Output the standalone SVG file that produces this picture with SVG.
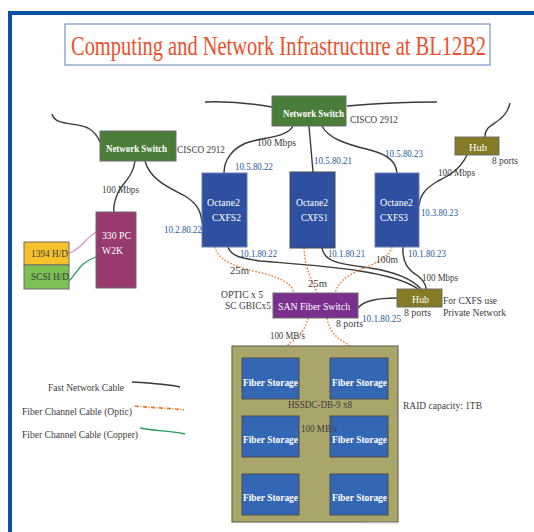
<svg xmlns="http://www.w3.org/2000/svg" width="534" height="532" viewBox="0 0 534 532" font-family="'Liberation Serif', 'DejaVu Serif', serif">
<style>
text{font-family:'Liberation Serif','DejaVu Serif',serif;}
.lbl{font-size:11px;fill:#3c3c3c;}
.ip{font-size:11px;fill:#1d5a9b;}
.wt{font-size:11px;fill:#ffffff;}
.wb{font-size:11px;fill:#ffffff;font-weight:bold;}
.net{fill:none;stroke:#3a3a3a;stroke-width:1.4;}
.opt{fill:none;stroke:#f07124;stroke-width:1.4;stroke-dasharray:1.5 1.8;}
.cu{fill:none;stroke:#2a9a5e;stroke-width:1.3;}
.oct{fill:#2f4fa0;stroke:#6f7fb0;stroke-width:1;}
.sto{fill:#3467b3;stroke:#4a4a4a;stroke-width:1;}
.sw{fill:#4a7d3a;stroke:#6c6c6c;stroke-width:1;}
.hub{fill:#857a25;stroke:#6c6c6c;stroke-width:1;}
</style>
<rect width="534" height="532" fill="#ffffff"/>
<path d="M10,532 V13 H534" fill="none" stroke="#0b52a6" stroke-width="4"/>
<g id="title">
<rect x="65" y="24" width="425" height="41" fill="#ffffff" stroke="#5b7fb5" stroke-width="1"/>
<text x="71" y="55" font-size="28" fill="#ec4f2a" textLength="415" lengthAdjust="spacingAndGlyphs">Computing and Network Infrastructure at BL12B2</text>
</g>
<g id="connectors">
<path class="net" d="M205,102 C230,101 255,104 272,107"/>
<path class="net" d="M347,106 C380,103 410,102 437,102"/>
<path class="net" d="M52,114 C55,126 75,122 88,128 C95,132 98,137 100,142"/>
<path class="net" d="M135,161 C133,178 120,185 117,195 C114,203 113,208 114,212"/>
<path class="net" d="M145,161 C150,180 170,188 185,196 C198,204 201,212 202,223"/>
<path class="net" d="M293,126 C287,138 262,137 246,143 C232,149 224,160 224,173"/>
<path class="net" d="M309,126 L313,172"/>
<path class="net" d="M322,126 C328,138 345,144 370,150 C390,155 396,163 397,173"/>
<path class="net" d="M485,137 C484,122 505,125 510,103"/>
<path class="net" d="M467,155 C460,170 448,176 438,181 C424,189 420,196 419,206"/>
<path class="net" d="M228,247 C231,256 240,258 260,261 C320,266 392,270 418,289"/>
<path class="net" d="M322,248 C324,262 340,264 370,268 C396,272 412,279 421,289"/>
<path class="net" d="M403,247 C402,262 408,270 418,276 C424,281 426,286 426,289"/>
<path class="net" d="M358,308 C364,300 380,298 397,298"/>
<path class="opt" d="M215,247 C218,262 240,268 262,273 C285,279 292,285 294,293"/>
<path class="opt" d="M304,248 C305,270 312,280 317,293"/>
<path class="opt" d="M392,247 C388,262 360,268 350,275 C340,281 337,287 335,293"/>
<path class="opt" d="M308,318 C305,332 296,338 289,344 C280,350 275,354 273,358"/>
<path class="opt" d="M327,318 C329,330 334,336 344,342 C354,348 360,352 362,358"/>
<path d="M69,253 C80,250 84,240 96,232" fill="none" stroke="#e394c4" stroke-width="1.3"/>
<path class="cu" d="M69,281 C78,272 80,262 96,257"/>
<path class="cu" d="M264,416 C268,410 264,405 269,399"/>
<path class="cu" d="M273,416 C277,410 273,405 278,399"/>
<path class="cu" d="M353,416 C357,410 353,405 358,399"/>
<path class="cu" d="M361,416 C365,410 361,405 366,399"/>
<path class="cu" d="M264,474 C268,468 264,463 269,457"/>
<path class="cu" d="M273,474 C277,468 273,463 278,457"/>
<path class="cu" d="M353,474 C357,468 353,463 358,457"/>
<path class="cu" d="M361,474 C365,468 361,463 366,457"/>
</g>
<g id="switch-top">
<rect class="sw" x="272" y="96" width="74" height="30"/>
<text class="wb" x="283" y="117" textLength="61" lengthAdjust="spacingAndGlyphs">Network Switch</text>
<text class="lbl" x="350" y="123" textLength="48" lengthAdjust="spacingAndGlyphs">CISCO 2912</text>
</g>
<g id="switch-left">
<rect class="sw" x="100" y="131" width="76" height="30"/>
<text class="wb" x="106" y="152" textLength="61" lengthAdjust="spacingAndGlyphs">Network Switch</text>
<text class="lbl" x="177" y="153" textLength="48" lengthAdjust="spacingAndGlyphs">CISCO 2912</text>
</g>
<g id="pc">
<rect x="96" y="212" width="40" height="76" fill="#983a6e" stroke="#6c6c6c" stroke-width="1"/>
<text class="wt" x="102" y="239" textLength="29" lengthAdjust="spacingAndGlyphs">330 PC</text>
<text class="wt" x="102" y="254" textLength="21" lengthAdjust="spacingAndGlyphs">W2K</text>
</g>
<g id="hd1394">
<rect x="24" y="242" width="45" height="23" fill="#f6c12b" stroke="#6c6c6c" stroke-width="1"/>
<text class="lbl" x="31" y="257" textLength="37" lengthAdjust="spacingAndGlyphs">1394 H/D</text>
</g>
<g id="scsi">
<rect x="24" y="265" width="45" height="24" fill="#7cbf52" stroke="#6c6c6c" stroke-width="1"/>
<text class="lbl" x="31" y="280" textLength="38" lengthAdjust="spacingAndGlyphs">SCSI H/D</text>
</g>
<g id="cxfs2">
<rect class="oct" x="202" y="173" width="45" height="74"/>
<text class="wt" x="207" y="206" textLength="33" lengthAdjust="spacingAndGlyphs">Octane2</text>
<text class="wt" x="212" y="221" textLength="29" lengthAdjust="spacingAndGlyphs">CXFS2</text>
</g>
<g id="cxfs1">
<rect x="290" y="172" width="45" height="76" fill="#2f4fa0" stroke="#4a4a4a" stroke-width="1"/>
<text class="wt" x="296" y="206" textLength="32" lengthAdjust="spacingAndGlyphs">Octane2</text>
<text class="wt" x="301" y="221" textLength="27" lengthAdjust="spacingAndGlyphs">CXFS1</text>
</g>
<g id="cxfs3">
<rect class="oct" x="375" y="173" width="44" height="74"/>
<text class="wt" x="380" y="206" textLength="33" lengthAdjust="spacingAndGlyphs">Octane2</text>
<text class="wt" x="380" y="221" textLength="28" lengthAdjust="spacingAndGlyphs">CXFS3</text>
</g>
<g id="hub-top">
<rect class="hub" x="455" y="137" width="44" height="18"/>
<text class="wt" x="469" y="151" textLength="18" lengthAdjust="spacingAndGlyphs">Hub</text>
<text class="lbl" x="492" y="164" textLength="26" lengthAdjust="spacingAndGlyphs">8 ports</text>
</g>
<g id="hub-private">
<rect class="hub" x="397" y="289" width="45" height="18"/>
<text class="wt" x="412" y="303" textLength="17" lengthAdjust="spacingAndGlyphs">Hub</text>
<text class="lbl" x="404" y="316" textLength="27" lengthAdjust="spacingAndGlyphs">8 ports</text>
<text class="lbl" x="443" y="304" textLength="54" lengthAdjust="spacingAndGlyphs">For CXFS use</text>
<text class="lbl" x="443" y="316" textLength="63" lengthAdjust="spacingAndGlyphs">Private Network</text>
</g>
<g id="san-switch">
<rect x="273" y="293" width="85" height="25" fill="#7b2f8e" stroke="#6c6c6c" stroke-width="1"/>
<text class="wt" x="278" y="310" textLength="72" lengthAdjust="spacingAndGlyphs">SAN Fiber Switch</text>
<text class="lbl" x="336" y="327" textLength="27" lengthAdjust="spacingAndGlyphs">8 ports</text>
<text class="lbl" x="221" y="298" textLength="42" lengthAdjust="spacingAndGlyphs">OPTIC x 5</text>
<text class="lbl" x="225" y="309" textLength="46" lengthAdjust="spacingAndGlyphs">SC GBICx5</text>
</g>
<g id="raid">
<rect x="232" y="346" width="166" height="176" fill="#aaa56b" stroke="#6a6a55" stroke-width="1.2"/>
<line x1="362" y1="523" x2="398" y2="523" stroke="#d0d0d0" stroke-width="1"/>
</g>
<g id="storage-1"><rect class="sto" x="242" y="358" width="57" height="41"/><text class="wb" x="243" y="386" textLength="55" lengthAdjust="spacingAndGlyphs">Fiber Storage</text></g>
<g id="storage-2"><rect class="sto" x="330" y="358" width="58" height="41"/><text class="wb" x="332" y="386" textLength="55" lengthAdjust="spacingAndGlyphs">Fiber Storage</text></g>
<g id="storage-3"><rect class="sto" x="242" y="416" width="57" height="41"/><text class="wb" x="243" y="443" textLength="55" lengthAdjust="spacingAndGlyphs">Fiber Storage</text></g>
<g id="storage-4"><rect class="sto" x="330" y="416" width="58" height="41"/><text class="wb" x="332" y="443" textLength="55" lengthAdjust="spacingAndGlyphs">Fiber Storage</text></g>
<g id="storage-5"><rect class="sto" x="242" y="474" width="57" height="41"/><text class="wb" x="243" y="501" textLength="55" lengthAdjust="spacingAndGlyphs">Fiber Storage</text></g>
<g id="storage-6"><rect class="sto" x="330" y="474" width="58" height="41"/><text class="wb" x="332" y="501" textLength="55" lengthAdjust="spacingAndGlyphs">Fiber Storage</text></g>
<g id="labels">
<text class="lbl" x="102" y="193" textLength="37" lengthAdjust="spacingAndGlyphs">100 Mbps</text>
<text class="lbl" x="257" y="146" textLength="39" lengthAdjust="spacingAndGlyphs">100 Mbps</text>
<text class="lbl" x="438" y="176" textLength="37" lengthAdjust="spacingAndGlyphs">100 Mbps</text>
<text class="lbl" x="422" y="281" textLength="36" lengthAdjust="spacingAndGlyphs">100 Mbps</text>
<text class="ip" x="235" y="170" textLength="38" lengthAdjust="spacingAndGlyphs">10.5.80.22</text>
<text class="ip" x="314" y="164" textLength="38" lengthAdjust="spacingAndGlyphs">10.5.80.21</text>
<text class="ip" x="385" y="157" textLength="38" lengthAdjust="spacingAndGlyphs">10.5.80.23</text>
<text class="ip" x="164" y="233" textLength="38" lengthAdjust="spacingAndGlyphs">10.2.80.22</text>
<text class="ip" x="240" y="257" textLength="37" lengthAdjust="spacingAndGlyphs">10.1.80.22</text>
<text class="ip" x="328" y="257" textLength="37" lengthAdjust="spacingAndGlyphs">10.1.80.21</text>
<text class="ip" x="408" y="257" textLength="38" lengthAdjust="spacingAndGlyphs">10.1.80.23</text>
<text class="ip" x="421" y="216" textLength="37" lengthAdjust="spacingAndGlyphs">10.3.80.23</text>
<text class="ip" x="362" y="322" textLength="39" lengthAdjust="spacingAndGlyphs">10.1.80.25</text>
<text class="lbl" x="230" y="274" textLength="19" lengthAdjust="spacingAndGlyphs">25m</text>
<text class="lbl" x="308" y="287" textLength="19" lengthAdjust="spacingAndGlyphs">25m</text>
<text class="lbl" x="376" y="263" textLength="22" lengthAdjust="spacingAndGlyphs">100m</text>
<text class="lbl" x="270" y="339" textLength="35" lengthAdjust="spacingAndGlyphs">100 MB/s</text>
<text class="lbl" x="288" y="408" textLength="64" lengthAdjust="spacingAndGlyphs">HSSDC-DB-9 x8</text>
<text class="lbl" x="301" y="432" textLength="36" lengthAdjust="spacingAndGlyphs">100 MB/s</text>
<text class="lbl" x="403" y="409" textLength="79" lengthAdjust="spacingAndGlyphs">RAID capacity: 1TB</text>
</g>
<g id="legend">
<text class="lbl" x="48" y="391" textLength="76" lengthAdjust="spacingAndGlyphs">Fast Network Cable</text>
<path class="net" d="M132,382 C150,383 168,384 180,387"/>
<text class="lbl" x="22" y="415" textLength="110" lengthAdjust="spacingAndGlyphs">Fiber Channel Cable (Optic)</text>
<path d="M135,406 C152,408 170,408 184,410" fill="none" stroke="#f07124" stroke-width="1.6" stroke-dasharray="4 1.5 1 1.5"/>
<text class="lbl" x="22" y="438" textLength="116" lengthAdjust="spacingAndGlyphs">Fiber Channel Cable (Copper)</text>
<path class="cu" d="M140,428 C155,431 172,431 185,434"/>
</g>
</svg>
